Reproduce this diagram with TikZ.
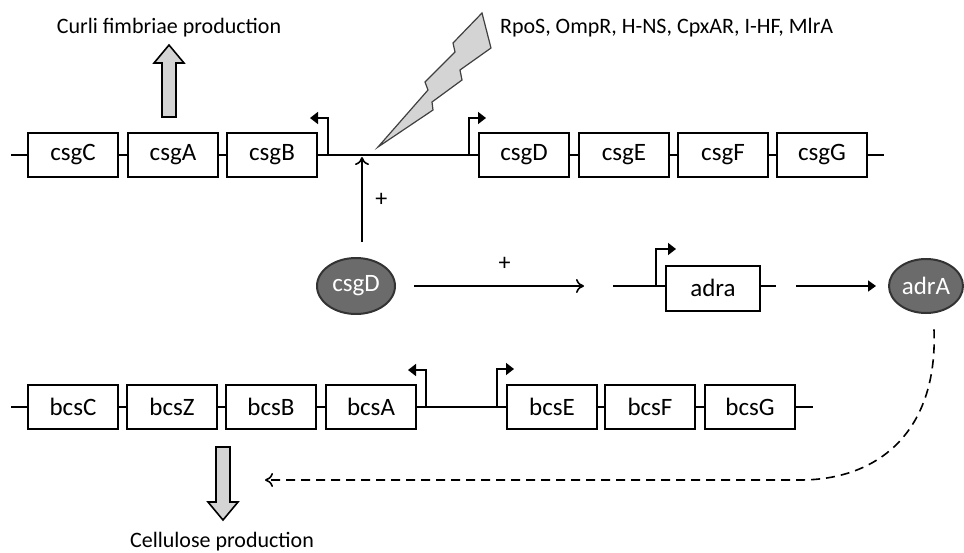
\documentclass[tikz,border=0pt]{standalone}
\usepackage{fontspec}
\setmainfont{Carlito}
\usetikzlibrary{arrows.meta,shapes.geometric}

\begin{document}
\begin{tikzpicture}
  [x=0.5pt,y=-0.5pt,
   gene/.style={draw,line width=1pt,fill=white,minimum width=45pt,minimum height=22pt,inner sep=0pt,font=\fontsize{12.5}{15}\selectfont},
   prot/.style={ellipse,draw=black!80,line width=1pt,fill=black!58,text=white,inner sep=0pt,font=\fontsize{12.5}{15}\selectfont},
   dna/.style={line width=1pt},
   prom/.style={line width=0.8pt,-{Triangle[length=4pt,width=6pt]}},
   act/.style={line width=0.8pt,-{To[length=4pt,width=7pt]}},
   conv/.style={line width=0.8pt,-{Triangle[length=4pt,width=5.5pt]}},
   reg/.style={line width=0.8pt,dash pattern=on 4.5pt off 3pt,-{To[length=4pt,width=7pt]}},
   bigarrow/.style={draw,line width=0.8pt,fill=black!17},
   lbl/.style={font=\fontsize{11}{13}\selectfont}]
  \useasboundingbox (0,0) rectangle (964,552);

  % csg operons
  \coordinate (t0) at (11,155);
  \node[gene] (csgC) at (73,155) {csgC};
  \node[gene] (csgA) at (173,155) {csgA};
  \node[gene] (csgB) at (272,155) {csgB};
  \node[gene] (csgD) at (524,155) {csgD};
  \node[gene] (csgE) at (624,155) {csgE};
  \node[gene] (csgF) at (723,155) {csgF};
  \node[gene] (csgG) at (822,155) {csgG};
  \coordinate (t1) at (884,155);
  \path[draw,dna]
        (t0) edge (csgC)
        (csgC) edge (csgA)
        (csgA) edge (csgB)
        (csgB) edge (csgD)
        (csgD) edge (csgE)
        (csgE) edge (csgF)
        (csgF) edge (csgG)
        (csgG) edge (t1);
  \draw[prom] (csgB.east) ++(10,0) |- ++(-18,-37);
  \draw[prom] (csgD.west) ++(-9,0) |- ++(17,-37);

  % bcs operons
  \coordinate (b0) at (11,407);
  \node[gene] (bcsC) at (73,407) {bcsC};
  \node[gene] (bcsZ) at (172,407) {bcsZ};
  \node[gene] (bcsB) at (271,407) {bcsB};
  \node[gene] (bcsA) at (371,407) {bcsA};
  \node[gene] (bcsE) at (552,407) {bcsE};
  \node[gene] (bcsF) at (650,407) {bcsF};
  \node[gene] (bcsG) at (750,407) {bcsG};
  \coordinate (b1) at (813,407);
  \path[draw,dna]
        (b0) edge (bcsC)
        (bcsC) edge (bcsZ)
        (bcsZ) edge (bcsB)
        (bcsB) edge (bcsA)
        (bcsA) edge (bcsE)
        (bcsE) edge (bcsF)
        (bcsF) edge (bcsG)
        (bcsG) edge (b1);
  \draw[prom] (bcsA.east) ++(9,0) |- ++(-18,-37);
  \draw[prom] (bcsE.west) ++(-9,0) |- ++(17,-38);

  % adrA
  \node[prot,minimum width=39pt,minimum height=28pt] (csgDp) at (356,286) {csgD};
  \coordinate (m0) at (613,286);
  \node[gene,minimum width=47pt,minimum height=22.5pt] (adra) at (713,288) {adra};
  \coordinate (m1) at (776,286);
  \node[prot,minimum width=37pt,minimum height=27pt] (adrA) at (926,286) {adrA};
  \draw[dna] (m0) -- (m0 -| adra.west) (adra.east |- m1) -- (m1);
  \draw[prom] (adra.west) ++(-9,-2) |- ++(20,-37);

  \coordinate (site) at (362,157);
  \coordinate (cel) at (265,480);
  \draw[act] (csgDp.north -| site) ++(0,-15) -- (site) node[midway,right=3pt,font=\fontsize{12}{14}\selectfont] {+};
  \draw[act,shorten <=9pt,shorten >=14.5pt] (csgDp) -- (m0) node[midway,above=4pt,font=\fontsize{12}{14}\selectfont] {+};
  \draw[conv,shorten <=10pt,shorten >=6pt] (m1) -- (adrA);
  \draw[reg,shorten <=8pt] (adrA.-75) .. controls (938,430) and (880,480) .. (800,480) -- (cel);

  % products and signals
  \draw[bigarrow] (162,117) -- (162,63) -- (154,63) -- (169,45) -- (184,63) -- (176,63) -- (176,117) -- cycle;
  \draw[bigarrow] (216,447) -- (216,502) -- (208,502) -- (223,520) -- (238,502) -- (230,502) -- (230,447) -- cycle;
  \draw[draw=black!75,line width=0.6pt,fill=black!17] (482,13) -- (491,48) -- (460,70) -- (462,80) -- (432,102) -- (433,110) -- (378,147) -- (428,90) -- (425,82) -- (455,52) -- (453,43) -- cycle;
  \node[lbl] (curli) at (169,28) {Curli fimbriae production};
  \node[lbl,anchor=west] (sig) at (493,28) {RpoS, OmpR, H-NS, CpxAR, I-HF, MlrA};
  \node[lbl] (cellu) at (222,542) {Cellulose production};

\end{tikzpicture}
\end{document}
